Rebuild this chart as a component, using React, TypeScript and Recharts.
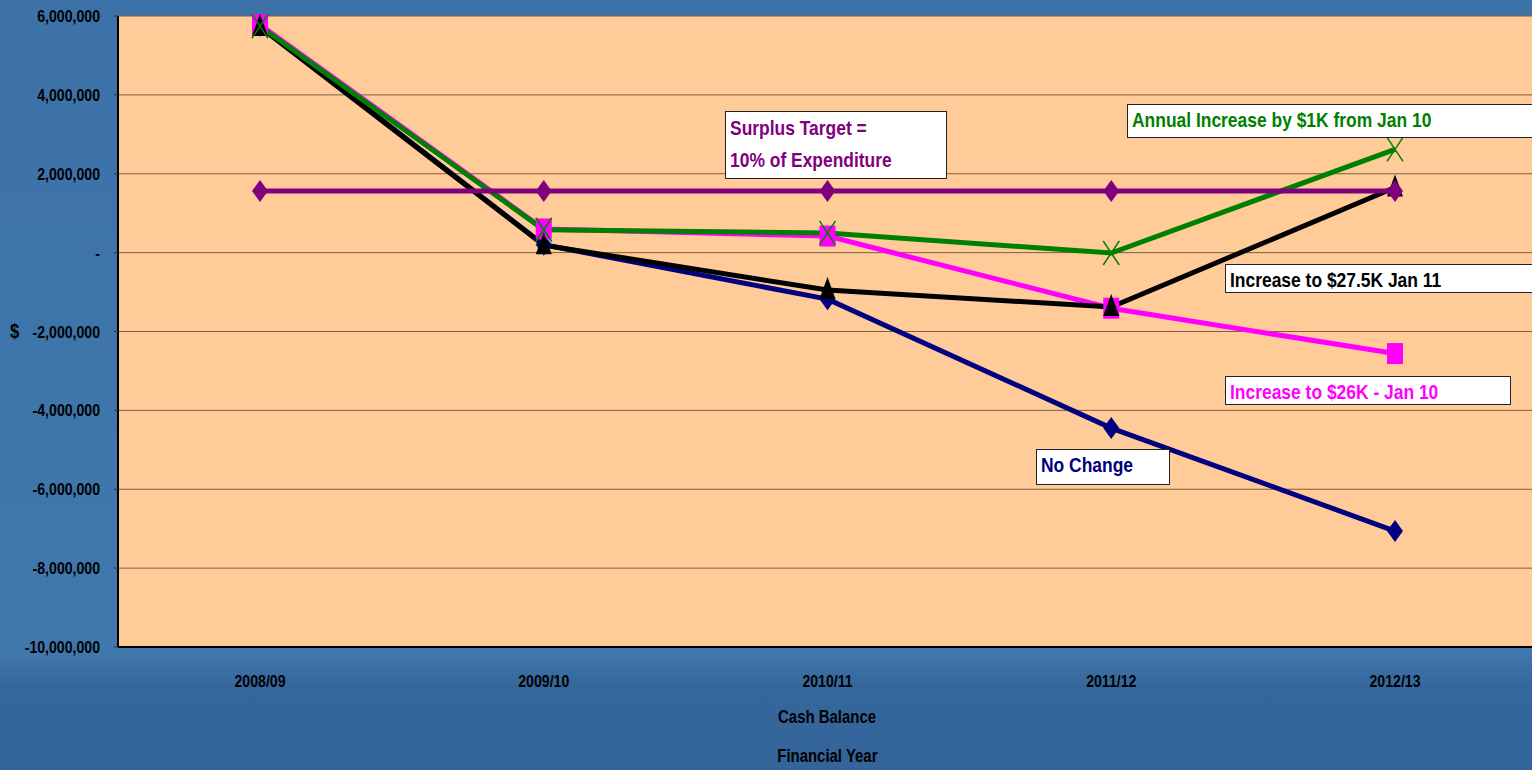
import { LineChart, Line, XAxis, YAxis, CartesianGrid } from 'recharts';

const categories = ['2008/09', '2009/10', '2010/11', '2011/12', '2012/13'];
const noChange = [5750000, 200000, -1180000, -4450000, -7060000];
const increase26K = [5780000, 600000, 420000, -1410000, -2560000];
const increase275K = [5720000, 190000, -950000, -1380000, 1650000];
const annualIncrease1K = [5740000, 580000, 500000, -10000, 2620000];
const surplusTarget = [1560000, 1560000, 1560000, 1560000, 1560000];
const yTicks = [-10000000, -8000000, -6000000, -4000000, -2000000, 0, 2000000, 4000000, 6000000];

const data = categories.map((year, i) => ({
  year,
  noChange: noChange[i],
  increase26K: increase26K[i],
  increase275K: increase275K[i],
  annualIncrease1K: annualIncrease1K[i],
  surplusTarget: surplusTarget[i],
}));

// no narrow font installed, so squeeze Liberation Sans horizontally
const FONT = "'Liberation Sans', Arial, sans-serif";
const SQUEEZE = 0.83;

const diamond = (color: string) => (props: any) => {
  const { cx, cy, index } = props;
  return <path key={`d-${color}-${index}`} d={`M${cx},${cy - 11} L${cx + 8},${cy} L${cx},${cy + 11} L${cx - 8},${cy} Z`} fill={color} />;
};

const square = (color: string) => (props: any) => {
  const { cx, cy, index } = props;
  return <rect key={`s-${index}`} x={cx - 8} y={cy - 10.5} width={16} height={21} fill={color} />;
};

const triangle = (color: string) => (props: any) => {
  const { cx, cy, index } = props;
  return <path key={`t-${index}`} d={`M${cx},${cy - 13} L${cx + 8},${cy + 9} L${cx - 8},${cy + 9} Z`} fill={color} />;
};

const cross = (color: string) => (props: any) => {
  const { cx, cy, index } = props;
  return (
    <g key={`x-${index}`}>
      <line x1={cx - 8} y1={cy - 12} x2={cx + 8} y2={cy + 12} stroke={color} strokeWidth={1.5} />
      <line x1={cx + 8} y1={cy - 12} x2={cx - 8} y2={cy + 12} stroke={color} strokeWidth={1.5} />
    </g>
  );
};

const fmtY = (v: number) => (v === 0 ? '-' : v.toLocaleString('en-US'));

const XTick = (props: any) => {
  const { x, y, payload } = props;
  return (
    <text transform={`translate(${x},${y + 32}) scale(${SQUEEZE},1)`} textAnchor="middle" fontFamily={FONT} fontWeight="bold" fontSize={17} fill="#000">
      {payload.value}
    </text>
  );
};

const YTick = (props: any) => {
  const { x, y, payload } = props;
  return (
    <text transform={`translate(${x - 12},${y + 6}) scale(${SQUEEZE},1)`} textAnchor="end" fontFamily={FONT} fontWeight="bold" fontSize={17} fill="#000">
      {fmtY(payload.value)}
    </text>
  );
};

const Squeezed = ({ children, origin = 'left' }: { children: React.ReactNode; origin?: string }) => (
  <span style={{ display: 'inline-block', transform: `scaleX(${SQUEEZE})`, transformOrigin: origin }}>{children}</span>
);

const boxStyle = (left: number, top: number, width: number, height: number, color: string): React.CSSProperties => ({
  position: 'absolute',
  left,
  top,
  width,
  height,
  boxSizing: 'border-box',
  background: '#fff',
  border: '1.5px solid #222',
  color,
  fontFamily: FONT,
  fontWeight: 'bold',
  fontSize: 21,
  lineHeight: '29px',
  padding: '0px 4px',
  whiteSpace: 'nowrap',
});

const centerText = (top: number): React.CSSProperties => ({
  position: 'absolute',
  left: 727,
  top,
  width: 200,
  textAlign: 'center',
  fontWeight: 'bold',
  fontSize: 18,
  color: '#000',
});

export default function App() {
  return (
    <div
      style={{
        position: 'absolute',
        left: 0,
        top: 0,
        width: 1532,
        height: 770,
        overflow: 'hidden',
        background: 'linear-gradient(180deg, #3c72a7 0%, #4077ad 85%, #35679c 89%, #33649a 100%)',
        fontFamily: FONT,
      }}
    >
      <LineChart width={1537} height={770} data={data} margin={{ top: 16, right: 0, left: 0, bottom: 0 }}>
        <CartesianGrid vertical={false} stroke="#7d5f42" fill="#FFCC99" fillOpacity={1} />
        <XAxis
          dataKey="year"
          height={123}
          padding={{ left: 142, right: 142 }}
          axisLine={{ stroke: '#000', strokeWidth: 2 }}
          tickLine={false}
          tick={<XTick />}
        />
        <YAxis
          width={118}
          domain={[-10000000, 6000000]}
          ticks={yTicks}
          interval={0}
          axisLine={{ stroke: '#000', strokeWidth: 2 }}
          tickLine={{ stroke: '#333' }}
          tickSize={4}
          tick={<YTick />}
        />
        <Line dataKey="noChange" stroke="#000080" strokeWidth={5} dot={diamond('#000080')} isAnimationActive={false} />
        <Line dataKey="increase26K" stroke="#FF00FF" strokeWidth={5} dot={square('#FF00FF')} isAnimationActive={false} />
        <Line dataKey="increase275K" stroke="#000000" strokeWidth={5} dot={triangle('#000000')} isAnimationActive={false} />
        <Line dataKey="annualIncrease1K" stroke="#008000" strokeWidth={5} dot={cross('#008000')} isAnimationActive={false} />
        <Line dataKey="surplusTarget" stroke="#800080" strokeWidth={5} dot={diamond('#800080')} isAnimationActive={false} />
      </LineChart>

      <div style={{ position: 'absolute', left: 10, top: 320, fontWeight: 'bold', fontSize: 20, color: '#000' }}>
        <Squeezed>$</Squeezed>
      </div>
      <div style={centerText(707)}>
        <Squeezed origin="center">Cash Balance</Squeezed>
      </div>
      <div style={centerText(746)}>
        <Squeezed origin="center">Financial Year</Squeezed>
      </div>

      <div style={{ ...boxStyle(725, 111, 222, 68, '#800080'), lineHeight: '32px' }}>
        <Squeezed>
          Surplus Target =<br />10% of Expenditure
        </Squeezed>
      </div>
      <div style={boxStyle(1127, 104, 420, 34, '#008000')}>
        <Squeezed>Annual Increase by $1K from Jan 10</Squeezed>
      </div>
      <div style={boxStyle(1225, 264, 320, 29, '#000000')}>
        <Squeezed>Increase to $27.5K Jan 11</Squeezed>
      </div>
      <div style={boxStyle(1225, 376, 286, 29, '#FF00FF')}>
        <Squeezed>Increase to $26K - Jan 10</Squeezed>
      </div>
      <div style={boxStyle(1036, 449, 134, 36, '#000080')}>
        <Squeezed>No Change</Squeezed>
      </div>
    </div>
  );
}
